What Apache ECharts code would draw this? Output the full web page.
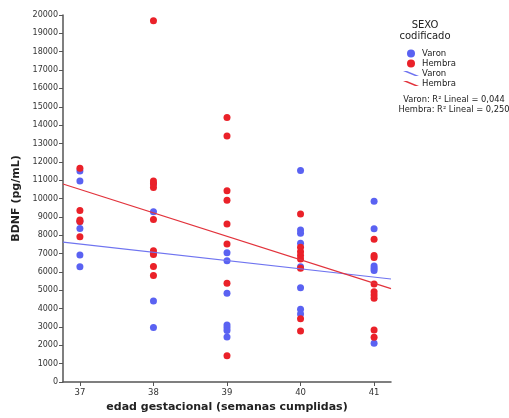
<!DOCTYPE html>
<html>
<head>
<meta charset="utf-8">
<script src="https://cdn.jsdelivr.net/npm/echarts@6/dist/echarts.min.js"></script>
<style>
  html, body { margin: 0; padding: 0; background: #fff; }
  #chart { width: 509px; height: 418px; }
</style>
</head>
<body>
<div id="chart"></div>
<script>
// Gestational age (completed weeks) and BDNF (pg/mL), one entry per subject
const weekTicks = [37, 38, 39, 40, 41];

const varonWeeks = [37, 37, 37, 37, 37, 37,
                    38, 38, 38, 38, 38,
                    39, 39, 39, 39, 39, 39, 39,
                    40, 40, 40, 40, 40, 40, 40, 40,
                    41, 41, 41, 41, 41, 41];
const varonBDNF  = [11500, 10950, 8750, 8370, 6920, 6280,
                    10800, 9280, 7000, 4420, 2970,
                    7050, 6610, 4830, 3100, 2950, 2800, 2450,
                    11520, 8280, 8100, 7560, 6280, 5130, 3960, 3700,
                    9850, 8350, 6320, 6200, 6070, 2110];

const hembraWeeks = [37, 37, 37, 37, 37,
                     38, 38, 38, 38, 38, 38, 38, 38, 38,
                     39, 39, 39, 39, 39, 39, 39, 39,
                     40, 40, 40, 40, 40, 40, 40, 40,
                     41, 41, 41, 41, 41, 41, 41, 41, 41];
const hembraBDNF  = [11650, 9340, 8830, 8740, 7920,
                     19690, 10950, 10800, 10600, 8850, 7150, 6950, 6300, 5810,
                     14420, 13400, 10420, 9900, 8610, 7520, 5380, 1430,
                     9160, 7350, 7100, 6900, 6700, 6200, 3450, 2780,
                     7780, 6900, 6790, 5340, 4920, 4740, 4560, 2830, 2440];

const r2Labels = ['Varon: R\u00B2 Lineal = 0,044', 'Hembra: R\u00B2 Lineal = 0,250'];

const xMin = 36.77, xMax = 41.23;
const BLUE = '#5a62f2', RED = '#ea2129';
const FONT = 'DejaVu Sans';

function pairs(xs, ys) { return xs.map((x, i) => [x, ys[i]]); }

// Ordinary least squares fit, evaluated at both ends of the x axis
function fitLine(xs, ys) {
  const n = xs.length;
  const mx = xs.reduce((a, b) => a + b, 0) / n;
  const my = ys.reduce((a, b) => a + b, 0) / n;
  let sxy = 0, sxx = 0;
  for (let i = 0; i < n; i++) { sxy += (xs[i] - mx) * (ys[i] - my); sxx += (xs[i] - mx) ** 2; }
  const b = sxy / sxx, a = my - b * mx;
  return [[xMin, a + b * xMin], [xMax, a + b * xMax]];
}

const chart = echarts.init(document.getElementById('chart'), null, { renderer: 'canvas' });

// slanted stroke used as the legend symbol of the fit lines
const lineIcon = 'path://M0,0L5,0L20,6L15,6Z';

function centeredText(x, y, text, size) {
  return {
    type: 'text', x: x, y: y, silent: true,
    style: { text: text, fontFamily: FONT, fontSize: size, fill: '#222', align: 'center', verticalAlign: 'middle' }
  };
}

chart.setOption({
  animation: false,
  backgroundColor: '#fff',
  grid: { left: 63, right: 118, top: 15, bottom: 36, containLabel: false },
  xAxis: {
    type: 'value', min: xMin, max: xMax,
    name: 'edad gestacional (semanas cumplidas)',
    nameLocation: 'middle', nameGap: 20,
    nameTextStyle: { fontFamily: FONT, fontSize: 11, fontWeight: 'bold', color: '#222' },
    axisLine: { show: true, onZero: false, lineStyle: { color: '#555', width: 1.5 } },
    axisTick: { show: true, inside: false, length: 4, customValues: weekTicks, lineStyle: { color: '#555' } },
    axisLabel: { customValues: weekTicks, margin: 6, fontFamily: FONT, fontSize: 8.5, color: '#333' },
    splitLine: { show: false }
  },
  yAxis: {
    type: 'value', min: 0, max: 20000, interval: 1000,
    name: 'BDNF (pg/mL)',
    nameLocation: 'middle', nameGap: 40, nameRotate: 90,
    nameTextStyle: { fontFamily: FONT, fontSize: 11, fontWeight: 'bold', color: '#222' },
    axisLine: { show: true, lineStyle: { color: '#555', width: 1.5 } },
    axisTick: { show: true, length: 4, lineStyle: { color: '#555' } },
    axisLabel: { margin: 5, fontFamily: FONT, fontSize: 8, color: '#333', formatter: v => String(v) },
    splitLine: { show: false }
  },
  legend: {
    orient: 'vertical', left: 398, top: 44,
    itemWidth: 16, itemHeight: 8, itemGap: 1,
    selectedMode: false,
    textStyle: { fontFamily: FONT, fontSize: 8.5, lineHeight: 9, color: '#222', padding: [0, 0, 0, -2] },
    formatter: name => name.replace(' (ajuste)', ''),
    data: [
      { name: 'Varon', icon: 'circle' },
      { name: 'Hembra', icon: 'circle' },
      { name: 'Varon (ajuste)', icon: lineIcon },
      { name: 'Hembra (ajuste)', icon: lineIcon }
    ]
  },
  graphic: [
    centeredText(425, 25, 'SEXO', 10),
    centeredText(425, 36, 'codificado', 10),
    centeredText(454, 100, r2Labels[0], 8.3),
    centeredText(454, 110, r2Labels[1], 8.3)
  ],
  series: [
    {
      name: 'Varon', type: 'scatter', symbolSize: 7,
      itemStyle: { color: BLUE, opacity: 1 },
      data: pairs(varonWeeks, varonBDNF), z: 2
    },
    {
      name: 'Hembra', type: 'scatter', symbolSize: 7,
      itemStyle: { color: RED, opacity: 1 },
      data: pairs(hembraWeeks, hembraBDNF), z: 3
    },
    {
      name: 'Varon (ajuste)', type: 'line', symbol: 'none',
      lineStyle: { color: '#6f74f0', width: 1.2 }, itemStyle: { color: '#6f74f0' },
      data: fitLine(varonWeeks, varonBDNF), z: 4
    },
    {
      name: 'Hembra (ajuste)', type: 'line', symbol: 'none',
      lineStyle: { color: '#e2333c', width: 1.2 }, itemStyle: { color: '#e2333c' },
      data: fitLine(hembraWeeks, hembraBDNF), z: 4
    }
  ]
});
</script>
</body>
</html>
